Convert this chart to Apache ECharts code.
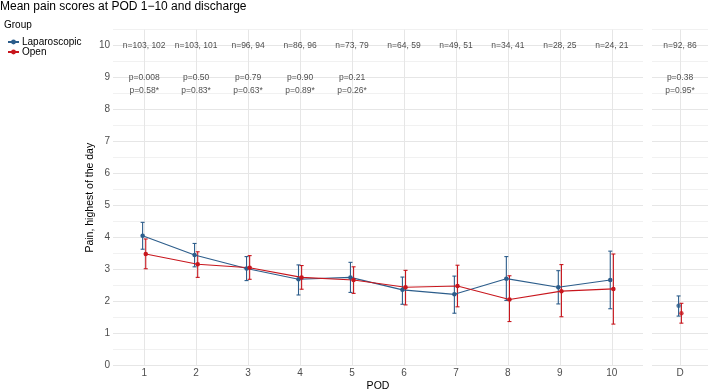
<!DOCTYPE html>
<html>

<head>
    <meta charset="utf-8">
    <title>Mean pain scores</title>
    <script src="https://cdn.jsdelivr.net/npm/echarts@6/dist/echarts.min.js"></script>
</head>

<body style="margin:0">
    <div id="main" style="width: 708px;height:390px;"></div>
    <script type="text/javascript">
        var pods = [1, 2, 3, 4, 5, 6, 7, 8, 9, 10];
        // Laparoscopic: mean and interval ends per POD
        var lapMean = [4.06, 3.46, 3.04, 2.70, 2.76, 2.37, 2.23, 2.72, 2.45, 2.68];
        var lapLow = [3.64, 3.09, 2.66, 2.21, 2.29, 1.92, 1.64, 2.04, 1.93, 1.78];
        var lapHigh = [4.48, 3.82, 3.41, 3.15, 3.23, 2.77, 2.80, 3.41, 2.97, 3.58];
        // Open
        var openMean = [3.49, 3.17, 3.06, 2.76, 2.68, 2.45, 2.49, 2.07, 2.33, 2.40];
        var openLow = [3.03, 2.76, 2.70, 2.39, 2.26, 1.90, 1.84, 1.38, 1.53, 1.30];
        var openHigh = [3.96, 3.56, 3.44, 3.13, 3.09, 2.98, 3.14, 2.81, 3.16, 3.49];
        // discharge: [mean, low, high]
        var lapD = [1.87, 1.55, 2.18];
        var openD = [1.64, 1.33, 1.95];

        var nLabels = ['n=103, 102', 'n=103, 101', 'n=96, 94', 'n=86, 96', 'n=73, 79',
            'n=64, 59', 'n=49, 51', 'n=34, 41', 'n=28, 25', 'n=24, 21'];
        var pLabels = ['p=0.008', 'p=0.50', 'p=0.79', 'p=0.90', 'p=0.21'];
        var pStarLabels = ['p=0.58*', 'p=0.83*', 'p=0.63*', 'p=0.89*', 'p=0.26*'];
        var nLabelD = 'n=92, 86';
        var pLabelD = 'p=0.38';
        var pStarLabelD = 'p=0.95*';

        var blue = '#2c5d8b';
        var red = '#c8161d';
        var dodge = 0.03;

        var dom = document.getElementById("main");
        var myChart = echarts.init(dom);

        function errorBar(params, api) {
            var x = api.value(0);
            var lo = api.coord([x, api.value(1)]);
            var hi = api.coord([x, api.value(2)]);
            var st = { stroke: api.visual('color'), lineWidth: 1.1 };
            return {
                type: 'group',
                children: [
                    { type: 'line', shape: { x1: lo[0], y1: lo[1], x2: hi[0], y2: hi[1] }, style: st },
                    { type: 'line', shape: { x1: lo[0] - 2, y1: lo[1], x2: lo[0] + 2, y2: lo[1] }, style: st },
                    { type: 'line', shape: { x1: hi[0] - 2, y1: hi[1], x2: hi[0] + 2, y2: hi[1] }, style: st }
                ]
            };
        }

        function textSeries(xIdx, items) {
            return {
                type: 'scatter',
                xAxisIndex: xIdx,
                yAxisIndex: xIdx,
                symbolSize: 0,
                silent: true,
                data: items,
                label: {
                    show: true,
                    position: 'inside',
                    fontSize: 8.5,
                    color: '#222',
                    fontFamily: 'Liberation Sans',
                    formatter: function (p) { return p.data[2]; }
                },
                z: 10
            };
        }

        var textItems = [];
        pods.forEach(function (d, i) { textItems.push([d, 10, nLabels[i]]); });
        pLabels.forEach(function (t, i) { textItems.push([pods[i], 9, t]); });
        pStarLabels.forEach(function (t, i) { textItems.push([pods[i], 8.58, t]); });
        var textItemsD = [[1, 10, nLabelD], [1, 9, pLabelD], [1, 8.58, pStarLabelD]];

        var splitY = {
            show: true,
            lineStyle: { color: ['#e6e6e6', '#f1f1f1'], width: 1 }
        };

        var yBase = {
            type: 'value',
            min: 0,
            max: 10.5,
            interval: 0.5,
            axisLine: { show: false },
            axisTick: { show: false },
            splitLine: splitY
        };

        var xLabelStyle = { color: '#4d4d4d', fontSize: 10, fontFamily: 'Liberation Sans', margin: 3 };

        option = {
            animation: false,
            textStyle: { fontFamily: 'Liberation Sans' },
            title: {
                text: 'Mean pain scores at POD 1\u221210 and discharge',
                left: 0,
                top: 0,
                padding: [1, 0, 0, 0],
                textStyle: { fontSize: 12, fontWeight: 'normal', color: '#000' }
            },
            legend: {
                data: ['Laparoscopic', 'Open'],
                orient: 'vertical',
                left: 2,
                top: 32,
                itemWidth: 11,
                itemHeight: 6,
                itemGap: 0,
                textStyle: { fontSize: 10, color: '#000', padding: [0, 0, 0, -2] }
            },
            graphic: [{
                type: 'text',
                left: 4,
                top: 20,
                style: { text: 'Group', fontSize: 10, fill: '#000', fontFamily: 'Liberation Sans' }
            }],
            grid: [
                { left: 113, right: 65, top: 29.7, bottom: 24.3, outerBoundsMode: 'none' },
                { left: 652, right: 0, top: 29.7, bottom: 24.3, outerBoundsMode: 'none' }
            ],
            xAxis: [{
                type: 'value',
                gridIndex: 0,
                min: 0.4,
                max: 10.6,
                name: 'POD',
                nameLocation: 'middle',
                nameGap: 15,
                nameMoveOverlap: false,
                nameTextStyle: { fontSize: 10.5, color: '#000' },
                axisLine: { show: false },
                axisTick: { show: false, customValues: pods },
                axisLabel: Object.assign({ customValues: pods }, xLabelStyle),
                splitLine: { show: true, lineStyle: { color: '#e6e6e6', width: 1 } }
            }, {
                type: 'value',
                gridIndex: 1,
                min: 0.4,
                max: 1.6,
                axisLine: { show: false },
                axisTick: { show: false, customValues: [1] },
                axisLabel: Object.assign({ customValues: [1], formatter: function () { return 'D'; } }, xLabelStyle),
                splitLine: { show: true, lineStyle: { color: '#e6e6e6', width: 1 } }
            }],
            yAxis: [Object.assign({
                gridIndex: 0,
                name: 'Pain, highest of the day',
                nameLocation: 'middle',
                nameRotate: 90,
                nameGap: 17,
                nameMoveOverlap: false,
                nameTextStyle: { fontSize: 10.5, color: '#000' },
                axisLabel: {
                    color: '#4d4d4d', fontSize: 10, margin: 3,
                    formatter: function (v) { return v % 1 === 0 ? String(v) : ''; }
                }
            }, yBase), Object.assign({
                gridIndex: 1,
                axisLabel: { show: false }
            }, yBase)],
            series: [{
                name: 'LapErr',
                type: 'custom',
                xAxisIndex: 0, yAxisIndex: 0,
                itemStyle: { color: blue },
                renderItem: errorBar,
                data: pods.map(function (d, i) { return [d - dodge, lapLow[i], lapHigh[i]]; }),
                z: 3
            }, {
                name: 'OpenErr',
                type: 'custom',
                xAxisIndex: 0, yAxisIndex: 0,
                itemStyle: { color: red },
                renderItem: errorBar,
                data: pods.map(function (d, i) { return [d + dodge, openLow[i], openHigh[i]]; }),
                z: 3
            }, {
                name: 'Laparoscopic',
                type: 'line',
                xAxisIndex: 0, yAxisIndex: 0,
                symbol: 'circle',
                symbolSize: 4.5,
                color: blue,
                lineStyle: { width: 1.1 },
                data: pods.map(function (d, i) { return [d - dodge, lapMean[i]]; }),
                z: 4
            }, {
                name: 'Open',
                type: 'line',
                xAxisIndex: 0, yAxisIndex: 0,
                symbol: 'circle',
                symbolSize: 4.5,
                color: red,
                lineStyle: { width: 1.1 },
                data: pods.map(function (d, i) { return [d + dodge, openMean[i]]; }),
                z: 4
            }, {
                name: 'LapErrD',
                type: 'custom',
                xAxisIndex: 1, yAxisIndex: 1,
                itemStyle: { color: blue },
                renderItem: errorBar,
                data: [[1 - dodge, lapD[1], lapD[2]]],
                z: 3
            }, {
                name: 'OpenErrD',
                type: 'custom',
                xAxisIndex: 1, yAxisIndex: 1,
                itemStyle: { color: red },
                renderItem: errorBar,
                data: [[1 + dodge, openD[1], openD[2]]],
                z: 3
            }, {
                name: 'LapD',
                type: 'scatter',
                xAxisIndex: 1, yAxisIndex: 1,
                symbolSize: 4.5,
                itemStyle: { color: blue },
                data: [[1 - dodge, lapD[0]]],
                z: 4
            }, {
                name: 'OpenD',
                type: 'scatter',
                xAxisIndex: 1, yAxisIndex: 1,
                symbolSize: 4.5,
                itemStyle: { color: red },
                data: [[1 + dodge, openD[0]]],
                z: 4
            },
            textSeries(0, textItems),
            textSeries(1, textItemsD)
            ]
        };

        myChart.setOption(option);
    </script>
</body>

</html>
